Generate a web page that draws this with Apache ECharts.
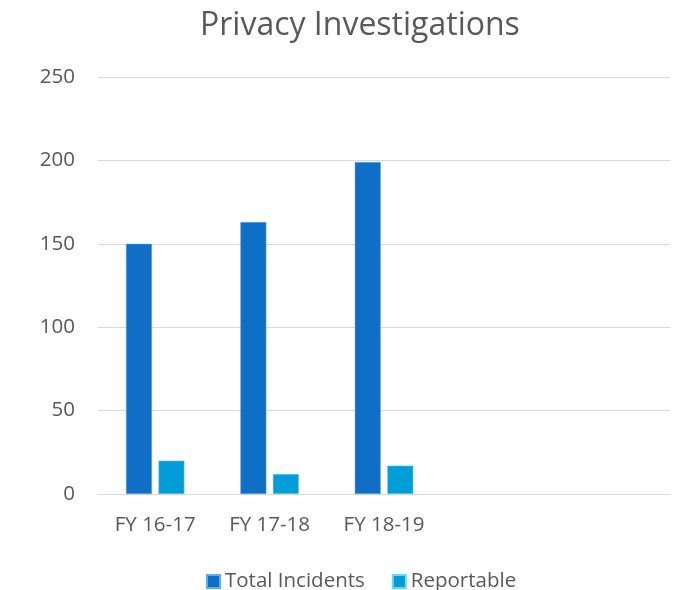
<!DOCTYPE html>
<html>
<head>
<meta charset="utf-8">
<script src="https://cdn.jsdelivr.net/npm/echarts@6/dist/echarts.min.js"></script>
<style>
  html, body { margin: 0; padding: 0; background: #fff; }
  #main { width: 677px; height: 590px; }
</style>
</head>
<body>
<div id="main"></div>
<script>
  // categories (last two are empty slots in the original chart)
  var categories = ['FY 16-17', 'FY 17-18', 'FY 18-19', '', '']
  var totalIncidents = [150, 163, 199]
  var reportable = [20, 12, 17]
  var yTicks = [0, 50, 100, 150, 200, 250]

  var myChart = echarts.init(document.getElementById('main'))
  var font = '"Open Sans", "Liberation Sans", sans-serif'
  var option = {
    animation: false,
    title: {
      text: 'Privacy Investigations',
      left: 195,
      top: 5,
      textStyle: { fontFamily: font, fontSize: 32, fontWeight: 'normal', color: '#595959' }
    },
    legend: {
      data: ['Total Incidents', 'Reportable'],
      left: 201,
      top: 566,
      itemWidth: 13,
      itemHeight: 13,
      itemGap: 27,
      icon: 'rect',
      textStyle: { fontFamily: font, fontSize: 20.5, color: '#595959' }
    },
    grid: { left: 98, right: 7, top: 77, bottom: 96 },
    xAxis: {
      type: 'category',
      data: categories,
      axisLine: { lineStyle: { color: '#d9d9d9', width: 1 } },
      axisTick: { show: false },
      axisLabel: { fontFamily: font, fontSize: 20.5, color: '#595959', margin: 21 }
    },
    yAxis: {
      type: 'value',
      min: yTicks[0],
      max: yTicks[yTicks.length - 1],
      interval: 50,
      axisLine: { show: false },
      axisTick: { show: false },
      splitLine: { lineStyle: { color: '#d9d9d9', width: 1 } },
      axisLabel: { fontFamily: font, fontSize: 20.5, color: '#595959', margin: 23 }
    },
    series: [
      {
        name: 'Total Incidents',
        type: 'bar',
        data: totalIncidents,
        barWidth: 26,
        barGap: '25%',
        itemStyle: { color: '#0F6FC6', borderColor: '#6fa8e0', borderWidth: 0.5 }
      },
      {
        name: 'Reportable',
        type: 'bar',
        data: reportable,
        barWidth: 26,
        barGap: '25%',
        itemStyle: { color: '#009DD9', borderColor: '#7fd0ee', borderWidth: 0.5 }
      }
    ]
  }
  myChart.setOption(option)
</script>
</body>
</html>
